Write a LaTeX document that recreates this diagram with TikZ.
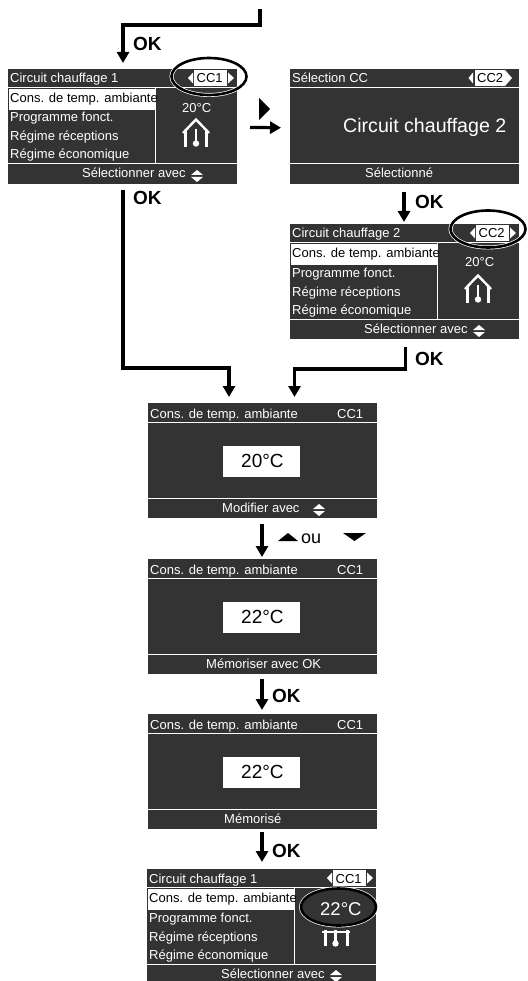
\documentclass[tikz,border=0pt]{standalone}
\usepackage{fontspec}
\setmainfont{Liberation Sans}
\usetikzlibrary{calc,arrows.meta,shapes.geometric}
\definecolor{lcd}{HTML}{333333}
\tikzset{
  flow/.style={draw=black,line width=3.2pt,-{Triangle[length=11pt,width=12pt]},line join=miter},
  screen/.style={fill=lcd,draw=none,inner sep=0pt,anchor=north west,minimum width=229pt},
  lcdtext/.style={text=white,inner sep=0pt,anchor=base west,font=\fontsize{13}{15}\selectfont},
  darktext/.style={lcdtext,text=black},
  bigtext/.style={darktext,font=\fontsize{19}{22}\selectfont},
  oktext/.style={text=black,inner sep=0pt,anchor=base west,font=\fontsize{19}{21}\selectfont\bfseries},
  sep/.style={draw=white,line width=1pt},
  whitebox/.style={fill=white,draw=none},
  tri/.style={fill=white,draw=none},
  ring/.style={ellipse,draw=black,line width=2.6pt,inner sep=0pt,minimum width=75pt,minimum height=37pt,
    preaction={draw=white,line width=4pt}}
}
\newcommand{\updownicon}[2]{%
  \fill[tri] (#1,#2+5)--(#1+12,#2+5)--(#1+6,#2)--cycle;
  \fill[tri] (#1,#2+7)--(#1+12,#2+7)--(#1+6,#2+12)--cycle;}
\newcommand{\houseicon}[2]{%
  \begin{scope}[shift={(#1,#2)}]
    \draw[white,line width=2.4pt,miter limit=10] (-13,15)--(0,1.5)--(13,15);
    \draw[white,line width=3pt] (-10.5,13)--(-10.5,29) (10.5,13)--(10.5,29);
    \draw[white,line width=2.8pt] (0,11)--(0,25);
    \fill[white] (0,25.5) circle (3.2);
  \end{scope}}
% #1 prefix, #2 x, #3 y, #4 height, #5 title, #6 CC label
\newcommand{\menuscreen}[6]{%
  \node[screen,minimum height=#4pt] (#1scr) at (#2,#3) {};
  \begin{scope}[shift={(#2,#3)}]
    \draw[sep] (0,18.5)--(229,18.5);
    \draw[sep] (0,95)--(229,95);
    \draw[sep] (147.8,18.5)--(147.8,95);
    \fill[whitebox] (1,20) rectangle (147,41);
    \node[lcdtext] (#1title) at (2,14) {#5};
    \node[darktext] (#1m1) at (2,33.5) {Cons. de temp. ambiante};
    \node[lcdtext] (#1m2) at (2,53) {Programme fonct.};
    \node[lcdtext] (#1m3) at (2,72) {Régime réceptions};
    \node[lcdtext] (#1m4) at (2,90) {Régime économique};
    \node[lcdtext] (#1sel) at (74,109) {Sélectionner avec};
    \updownicon{183}{101}
    \fill[whitebox] (186,1) rectangle (219,17);
    \node[darktext] (#1cc) at (188.5,14) {#6};
    \fill[tri] (185,3.5)--(185,14.5)--(180,9)--cycle;
    \fill[tri] (220,3.5)--(220,14.5)--(226,9)--cycle;
  \end{scope}}
% #1 prefix, #2 y, #3 value, #4 footer, #5 footer x
\newcommand{\valuescreen}[5]{%
  \node[screen,minimum height=115pt] (#1scr) at (148,#2) {};
  \begin{scope}[shift={(148,#2)}]
    \draw[sep] (0,19)--(229,19);
    \draw[sep] (0,95.5)--(229,95.5);
    \fill[whitebox] (75,43) rectangle (152,74);
    \node[lcdtext] (#1title) at (2,15) {Cons. de temp. ambiante};
    \node[lcdtext] (#1cc) at (189,15) {CC1};
    \node[bigtext] (#1val) at (93,64) {#3};
    \node[lcdtext] (#1foot) at (#5,109.5) {#4};
  \end{scope}}
\begin{document}
\begin{tikzpicture}[x=1pt,y=-1pt]
\useasboundingbox (0,0) rectangle (527,981);
% screens
\menuscreen{a}{8}{69}{115}{Circuit chauffage 1}{CC1}
\node[lcdtext] (aT) at (182,113) {20°C};
\houseicon{196}{118}
\node[ring] (aring) at (209,76.5) {};

\node[screen,minimum height=115pt] (bscr) at (290,69) {};
\begin{scope}[shift={(290,69)}]
  \draw[sep] (0,19)--(229,19);
  \draw[sep] (0,95)--(229,95);
  \fill[whitebox] (185,1) rectangle (215,17);
  \fill[tri] (215,1)--(215,17)--(222,9)--cycle;
  \fill[tri] (183,3.5)--(183,14.5)--(178.5,9)--cycle;
  \node[lcdtext] (btitle) at (2,13.5) {Sélection CC};
  \node[darktext] (bcc) at (187,13.5) {CC2};
  \node[lcdtext,font=\fontsize{19.6}{24}\selectfont] (bmain) at (53,64) {Circuit chauffage 2};
  \node[lcdtext] (bfoot) at (75,109) {Sélectionné};
\end{scope}

\menuscreen{c}{290}{224}{115}{Circuit chauffage 2}{CC2}
\node[lcdtext] (cT) at (465,267) {20°C};
\houseicon{478}{274}
\node[ring] (cring) at (488,229) {};

\valuescreen{d}{403}{20°C}{Modifier avec}{74}
\updownicon{313}{504}
\valuescreen{e}{559}{22°C}{Mémoriser avec OK}{58}
\valuescreen{f}{714}{22°C}{Mémorisé}{76}

\menuscreen{g}{147}{869}{112}{Circuit chauffage 1}{CC1}
\draw[white,line width=3pt] (325,930)--(325,946) (347,930)--(347,946);
\draw[white,line width=2.8pt] (335.5,930)--(335.5,943);
\fill[white] (335.5,943.5) circle (3.2);
\draw[white,line width=1.5pt] (322,932)--(350,932);
\node[ring,fill=lcd] (gring) at (338.5,907) {};
\node[lcdtext,font=\fontsize{18.5}{22}\selectfont] (gT) at (320,915) {22°C};

% connectors
\coordinate (topstart) at (260,9);
\draw[flow] (topstart) |- ($(ascr.north west)+(115,-44)$) -- ($(ascr.north west)+(115,-6)$);
\coordinate (aout) at ($(ascr.south west)+(115,6)$);
\draw[flow] (aout) |- (229,368) -- ($(dscr.north west)+(81,-6)$);
\coordinate (abstart) at (250,127.5);
\draw[flow] (abstart) -- ($(bscr.west)+(-9,1)$);
\draw[flow] ($(bscr.south west)+(114,8)$) -- ($(cscr.north west)+(114,-2)$);
\coordinate (cout) at ($(cscr.south west)+(115.7,8)$);
\draw[flow] (cout) |- (294.5,369) -- ($(dscr.north west)+(146.5,-6)$);
\draw[flow] ($(dscr.south west)+(114,6)$) -- ($(escr.north west)+(114,-2)$);
\draw[flow] ($(escr.south west)+(114,5)$) -- ($(fscr.north west)+(114,-4)$);
\draw[flow] ($(fscr.south west)+(114,3)$) -- ($(gscr.north west)+(115,-7)$);

% labels
\node[oktext] (ok1) at (133,51) {OK};
\node[oktext] (ok2) at (133,205) {OK};
\node[oktext] (ok3) at (415,209) {OK};
\node[oktext] (ok4) at (415,365) {OK};
\node[oktext] (ok5) at (272,702) {OK};
\node[oktext] (ok6) at (272,857) {OK};
\node[inner sep=0pt,anchor=base west,font=\fontsize{18}{20}\selectfont] (ou) at (301,543) {ou};
\fill (278,541)--(298,541)--(288,533)--cycle;
\fill (343,533)--(366,533)--(354.5,541)--cycle;
\fill (259,98)--(270,109)--(259,120)--cycle;
\end{tikzpicture}
\end{document}
